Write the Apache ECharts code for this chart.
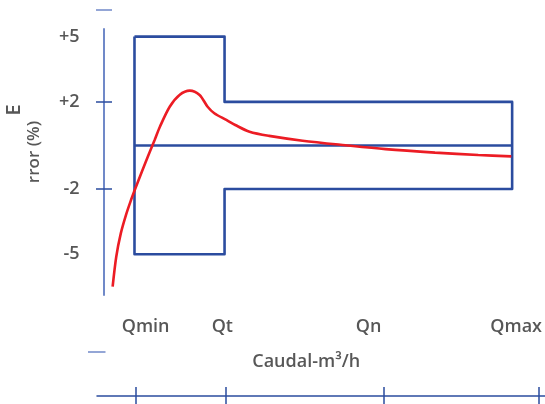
<!DOCTYPE html>
<html><head><meta charset="utf-8">
<script src="https://cdn.jsdelivr.net/npm/echarts@6/dist/echarts.min.js"></script>
<style>html,body{margin:0;padding:0;background:#fff}#c{width:545px;height:404px}</style>
</head><body><div id="c"></div>
<script>
// ---- data ----
const xLabels = ['Qmin', 'Qt', 'Qn', 'Qmax'];
const xLabelPos = [10.9, 28.1, 60.9, 94.0];        // where the flow labels sit
const flowTicks = [8.6, 28.8, 64.1, 98.7];          // ticks on the lower flow axis
const qMin = 8.4, qT = 28.6, qMax = 93.1;           // flow boundaries
const errLowZone = 5;                               // ±5 % between Qmin and Qt
const errHighZone = 2;                              // ±2 % between Qt and Qmax
const yTickLabels = [5, 2, -2, -5];
const yTicks = [2, -2];
const curveX = [3.5, 4.31, 5.33, 6.5, 7.5, 8.46, 10.07, 11.54, 12.92, 14.1, 16.3, 18.5, 20.8, 23.0, 24.8, 26.3, 29.0, 31.0, 34.2, 38.6, 46.1, 55.7, 64.7, 75.8, 85.5, 92.9];
const curveY = [-6.49, -5.11, -4.04, -3.19, -2.58, -2.05, -1.20, -0.44, 0.25, 0.86, 1.78, 2.32, 2.52, 2.32, 1.78, 1.48, 1.17, 0.94, 0.63, 0.44, 0.22, 0.01, -0.17, -0.33, -0.44, -0.50];

// ---- build ----
const boxData = [
  [qMin, errLowZone], [qT, errLowZone], [qT, errHighZone], [qMax, errHighZone],
  [qMax, -errHighZone], [qT, -errHighZone], [qT, -errLowZone], [qMin, -errLowZone], [qMin, errLowZone]
];
const centerData = [[qMin, 0], [qMax, 0]];
const curveData = curveX.map((x, i) => [x, curveY[i]]);

const axisBlue = '#7089c8';
const boxBlue = '#2b4c9f';
const txt = '#575757';
const font = '"Open Sans", sans-serif';

function nearestLabel(v) {
  let best = 0;
  xLabelPos.forEach((p, i) => { if (Math.abs(p - v) < Math.abs(xLabelPos[best] - v)) best = i; });
  return xLabels[best];
}

const chart = echarts.init(document.getElementById('c'));
chart.setOption({
  animation: false,
  backgroundColor: '#fff',
  grid: [
    { left: 103.5, right: 0, top: 29, height: 266 },
    { left: 97, right: 0, top: 395, height: 1 }
  ],
  xAxis: [
    {
      gridIndex: 0, type: 'value', min: 1.45, max: 100,
      axisLine: { show: false }, axisTick: { show: false }, splitLine: { show: false },
      axisLabel: {
        customValues: xLabelPos, formatter: v => nearestLabel(v), margin: 23,
        color: txt, fontSize: 18, fontWeight: 600, fontFamily: font
      },
      name: 'Caudal-m³/h', nameLocation: 'middle', nameGap: 58,
      nameTextStyle: { color: txt, fontSize: 18, fontWeight: 600, fontFamily: font, padding: [0, 34, 0, 0] }
    },
    {
      gridIndex: 1, type: 'value', min: 0, max: 100, position: 'bottom',
      axisLine: { show: true, lineStyle: { color: boxBlue, width: 1.5 } },
      axisTick: { show: true, customValues: flowTicks, length: 8, lineStyle: { color: boxBlue, width: 1.5 } },
      axisLabel: { show: false }, splitLine: { show: false }
    },
    {
      gridIndex: 1, type: 'value', min: 0, max: 100, position: 'bottom',
      axisLine: { show: false },
      axisTick: { show: true, inside: true, customValues: flowTicks, length: 9, lineStyle: { color: boxBlue, width: 1.5 } },
      axisLabel: { show: false }, splitLine: { show: false }
    }
  ],
  yAxis: [
    {
      gridIndex: 0, type: 'value', min: -6.87, max: 5.35, position: 'left',
      axisLine: { show: true, lineStyle: { color: axisBlue, width: 2 } },
      axisTick: { show: true, customValues: yTicks, length: 7.5, lineStyle: { color: boxBlue, width: 1.5 } },
      axisLabel: {
        customValues: yTickLabels, margin: 24,
        formatter: v => (v > 0 ? '+' + v : String(v)),
        color: txt, fontSize: 18, fontWeight: 600, fontFamily: font
      },
      splitLine: { show: false }
    },
    {
      gridIndex: 0, type: 'value', min: -6.87, max: 5.35, position: 'left',
      axisLine: { show: false },
      axisTick: { show: true, inside: true, customValues: yTicks, length: 8.5, lineStyle: { color: boxBlue, width: 1.5 } },
      axisLabel: { show: false }, splitLine: { show: false }
    },
    { gridIndex: 1, type: 'value', show: false, min: 0, max: 1 }
  ],
  series: [
    {
      type: 'line', xAxisIndex: 0, yAxisIndex: 0, data: boxData, symbol: 'none',
      lineStyle: { color: boxBlue, width: 2.6, join: 'round' }, silent: true
    },
    {
      type: 'line', xAxisIndex: 0, yAxisIndex: 0, data: centerData, symbol: 'none',
      lineStyle: { color: boxBlue, width: 2.4 }, silent: true
    },
    {
      type: 'line', xAxisIndex: 0, yAxisIndex: 0, data: curveData, symbol: 'none',
      smooth: 0.3,
      lineStyle: { color: '#ec1c24', width: 2.6 }, silent: true
    }
  ],
  graphic: [
    { type: 'line', shape: { x1: 96, y1: 10, x2: 112, y2: 10 }, style: { stroke: axisBlue, lineWidth: 1.5 } },
    { type: 'line', shape: { x1: 88, y1: 352, x2: 105.5, y2: 352 }, style: { stroke: axisBlue, lineWidth: 1.5 } },
    {
      type: 'text', x: 14.5, y: 110, rotation: Math.PI / 2,
      style: { text: 'E', fill: txt, font: '600 20px "Open Sans", sans-serif', textAlign: 'center', textVerticalAlign: 'middle' }
    },
    {
      type: 'text', x: 34, y: 152, rotation: Math.PI / 2,
      style: { text: 'rror (%)', fill: txt, font: '600 17px "Open Sans", sans-serif', textAlign: 'center', textVerticalAlign: 'middle' }
    }
  ]
});
</script>
</body></html>
